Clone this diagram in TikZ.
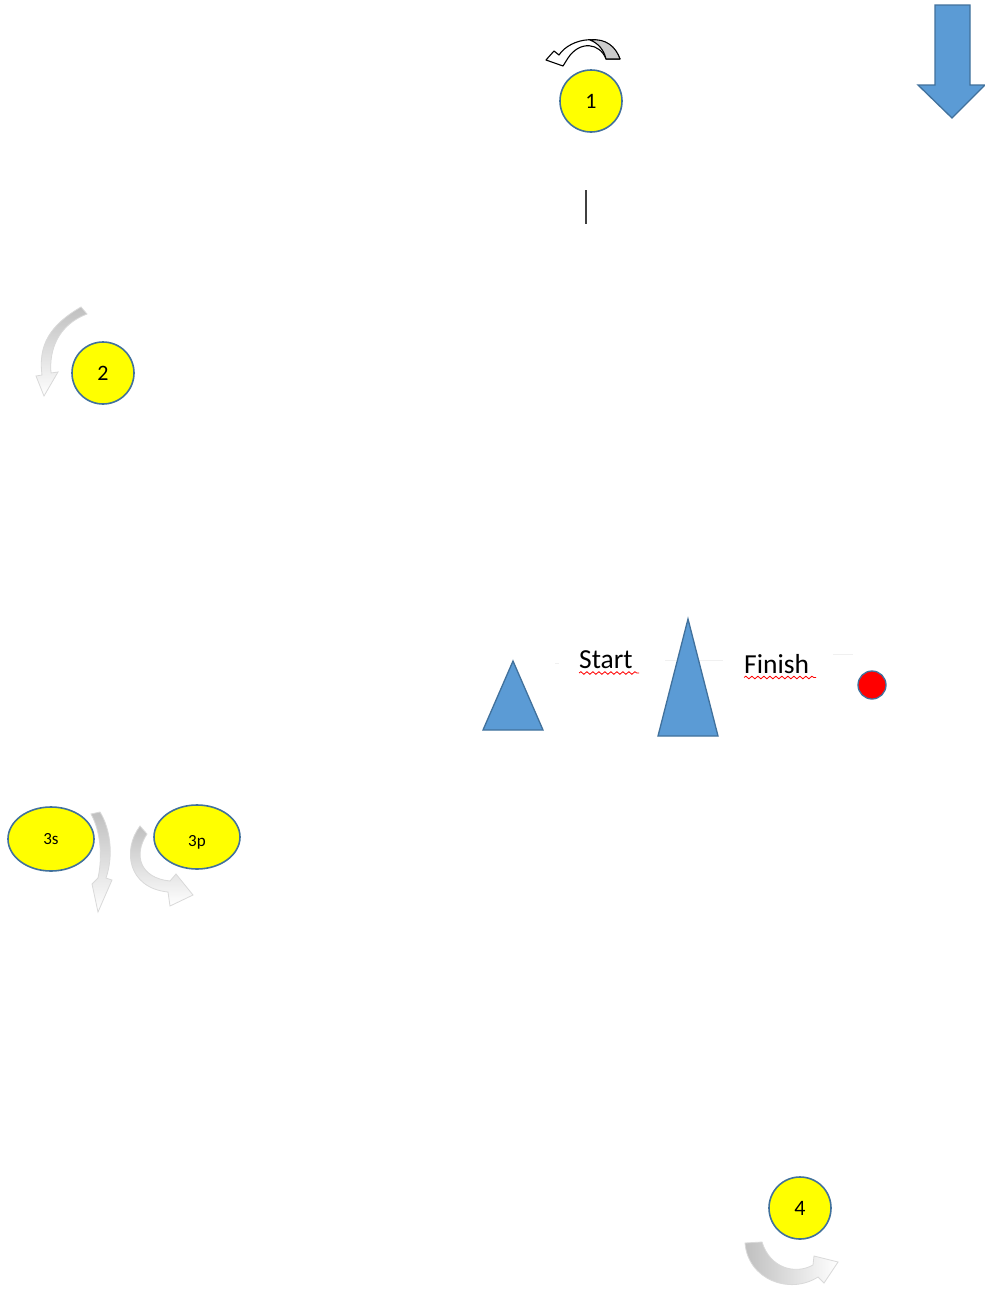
\documentclass[tikz,border=0pt]{standalone}
\usepackage{fontspec}
\setmainfont{Carlito}
\usetikzlibrary{decorations.pathmorphing,shapes.geometric}
\definecolor{ylw}{HTML}{FFFF00}
\definecolor{edgeblue}{HTML}{41719C}
\definecolor{fillblue}{HTML}{5B9BD5}
\begin{document}
\begin{tikzpicture}[x=1pt,y=-1pt,
  ball/.style={circle,draw=edgeblue,fill=ylw,line width=1.6pt,inner sep=0pt,minimum size=62pt,font=\fontsize{22}{22}\selectfont},
  oval/.style={ellipse,draw=edgeblue,fill=ylw,line width=1.6pt,inner sep=0pt,minimum width=86pt,minimum height=64pt,text depth=0pt,font=\fontsize{17}{17}\selectfont},
  bluefig/.style={draw=edgeblue,fill=fillblue,line width=1.3pt,line join=miter},
  grayarrow/.style={draw=gray!30,line width=0.8pt,top color=gray!50,bottom color=white},
  label/.style={inner sep=0pt,font=\fontsize{27.5}{27.5}\selectfont},
  wavy/.style={red,line width=0.8pt,decorate,decoration={snake,amplitude=1.3pt,segment length=6pt}},
  faint/.style={gray!12,line width=1pt}
]
\useasboundingbox (0,0) rectangle (985,1293);
\fill[white] (0,0) rectangle (985,1293);

% circle 1 and its arrow
\node[ball] (c1) at (591,101) {1};
\path[draw=black,line width=1.1pt,fill=white,line join=round]
  (559,55) .. controls (570,38) and (607,30) .. (620,59) -- (606,59)
  .. controls (600,43) and (580,40) .. (568,58) -- (563,66) -- (546,60) -- (554,51) -- cycle;
\path[draw=black,line width=1.1pt,fill=gray!40,line join=round]
  (590,40) .. controls (606,38) and (616,47) .. (620,59) -- (606,59)
  .. controls (604,50) and (598,43) .. cycle;

% blue down arrow
\draw[bluefig] (935,5) -- (970,5) -- (970,85) -- (985,85) -- (952,118) -- (918,85) -- (935,85) -- cycle;

% vertical line
\draw[black!75,line width=1.2pt] (586,190) -- (586,224);

% circle 2 and its arrow
\node[ball] (c2) at (103,373) {2};
\path[grayarrow]
  (81,307) .. controls (50,325) and (38,345) .. (42,375) -- (36,376) -- (44,396) -- (58,372) -- (51,373)
  .. controls (49,350) and (58,325) .. (87,314) -- cycle;

% ovals 3s and 3p with arrows
\node[oval] (c3s) at (51,839) {3s};
\node[oval,text height=19pt] (c3p) at (197,837) {3p};
\path[grayarrow]
  (91,814) .. controls (100,830) and (103,855) .. (98,878) -- (92,884) -- (98,912) -- (112,880) -- (106,878)
  .. controls (114,855) and (110,828) .. (100,812) -- cycle;
\path[grayarrow]
  (140,826) .. controls (122,850) and (128,888) .. (168,892) -- (170,906) -- (193,895) -- (176,874) -- (170,881)
  .. controls (140,878) and (133,855) .. (147,834) -- cycle;

% faint text-box lines, triangles, labels, red dot
\draw[faint] (555,663) -- (559,663);
\draw[faint] (665,660) -- (723,660);
\draw[faint] (833,654) -- (853,654);
\draw[bluefig] (513,661) -- (543,730) -- (483,730) -- cycle;
\draw[bluefig] (688,619) -- (718,736) -- (658,736) -- cycle;
\node[label,anchor=base west] (start) at (579,668.5) {Start};
\node[label,anchor=base west] (finish) at (744,673) {Finish};
\draw[wavy] (579,673) -- (639,673);
\draw[wavy] (744,677.5) -- (816,677.5);
\node[circle,draw=edgeblue,fill=red,line width=1.3pt,inner sep=0pt,minimum size=28pt] (dot) at (872,685) {};

% circle 4 and its arrow
\node[ball] (c4) at (800,1208) {4};
\path[draw=gray!30,line width=0.8pt,left color=gray!50,right color=white]
  (745,1243) .. controls (748,1280) and (790,1295) .. (818,1277) -- (824,1283) -- (838,1262) -- (814,1256) -- (813,1265)
  .. controls (795,1275) and (770,1268) .. (762,1242) -- cycle;
\end{tikzpicture}
\end{document}
